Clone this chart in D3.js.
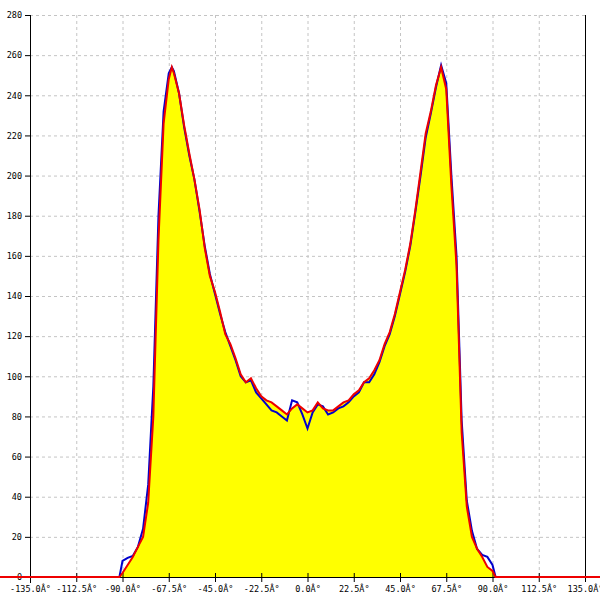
<!DOCTYPE html>
<html>
<head>
<meta charset="utf-8">
<script src="https://cdn.jsdelivr.net/npm/d3@7"></script>
<style>
html,body{margin:0;padding:0;background:#fff;}
svg{display:block;}
text{font-family:"DejaVu Sans Mono",monospace;font-size:8.5px;fill:#000;}
</style>
</head>
<body>
<svg id="chart" width="600" height="600"></svg>
<script>
const angles = [-180, -91.5, -90, -87.5, -85, -82.5, -80, -77.5, -75, -72.5, -70, -67.5, -66, -65, -62.5, -60, -57.5, -55, -52.5, -50, -47.5, -45, -42.5, -40, -37.5, -35, -32.5, -30, -27.5, -25, -22.5, -20, -17.5, -15, -12.5, -10, -7.5, -5, -2.5, 0, 2.5, 5, 7.5, 10, 12.5, 15, 17.5, 20, 22.5, 25, 27.5, 30, 32.5, 35, 37.5, 40, 42.5, 45, 47.5, 50, 52.5, 55, 57.5, 60, 62.5, 65, 67.5, 70, 72.5, 75, 77.5, 80, 82.5, 85, 87.5, 90, 91.5, 180];
const redValues = [0, 0, 2, 6, 10, 15, 20, 37, 80, 168, 226, 248, 254, 251, 241, 225, 211, 198, 183, 164, 150, 142, 132, 121, 116, 109, 101, 97, 99, 94, 90, 88, 87, 85, 83, 81, 84, 86, 84, 82, 83, 87, 84, 83, 83, 85, 87, 88, 91, 93, 97, 99, 103, 108, 116, 122, 131, 142, 153, 166, 183, 202, 221, 232, 245, 254, 243, 195, 155, 72, 35, 20, 14, 10, 5, 3, 0, 0];
const blueValues = [0, 0, 8, 9.5, 10.5, 15, 24, 46, 95, 180, 232, 251, 254, 252, 241, 224, 210, 198, 182, 165, 151, 141, 131, 122, 115, 108, 100, 97, 98, 92, 89, 86, 83, 82, 80, 78, 88, 87, 81, 74, 82, 86, 85, 81, 82, 84, 85, 87, 90, 92, 97, 97, 101, 107, 115, 121, 130, 141, 152, 165, 182, 200, 219, 231, 244, 255, 246, 200, 160, 78, 38, 23, 14, 11, 10, 6, 0, 0];
const xTicks = [-135, -112.5, -90, -67.5, -45, -22.5, 0, 22.5, 45, 67.5, 90, 112.5, 135];
const yTicks = [0, 20, 40, 60, 80, 100, 120, 140, 160, 180, 200, 220, 240, 260, 280];

const svg = d3.select("#chart");
const x = d3.scaleLinear().domain([-135, 135]).range([30, 585]);
const y = d3.scaleLinear().domain([0, 280]).range([577, 15]);

const red = angles.map((a, i) => ({a, v: redValues[i]}));
const blue = angles.map((a, i) => ({a, v: blueValues[i]}));

// grid
const grid = svg.append("g");
grid.selectAll("line.v").data(xTicks.filter(d => d > -135 && d < 135)).enter().append("line")
  .attr("x1", d => x(d) + 0.5).attr("x2", d => x(d) + 0.5)
  .attr("y1", y(280)).attr("y2", y(0))
  .attr("stroke", "#c4c4c4").attr("stroke-dasharray", "3,3");
grid.selectAll("line.h").data(yTicks.filter(d => d > 0)).enter().append("line")
  .attr("x1", x(-135)).attr("x2", x(135))
  .attr("y1", d => y(d) + 0.5).attr("y2", d => y(d) + 0.5)
  .attr("stroke", "#c4c4c4").attr("stroke-dasharray", "3,3");

// yellow area under red
svg.append("path").datum(red)
  .attr("fill", "#ffff00")
  .attr("d", d3.area().x(d => x(d.a)).y0(y(0)).y1(d => y(d.v)));

// axes
const xAxis = d3.axisBottom(x).tickValues(xTicks).tickSize(5).tickSizeOuter(0)
  .tickFormat(d => d.toFixed(1) + "Â°");
const gx = svg.append("g").attr("transform", `translate(0,${y(0)})`).call(xAxis);
gx.select(".domain").remove();
gx.selectAll(".tick line").attr("y1", -4).attr("y2", 5).attr("stroke", "#000");
gx.selectAll(".tick text").attr("y", 9).attr("dy", "0.71em").style("font-size", "8.5px");
svg.append("line").attr("x1", 0).attr("x2", 600).attr("y1", y(0) + 0.5).attr("y2", y(0) + 0.5).attr("stroke", "#000");

const yAxis = d3.axisLeft(y).tickValues(yTicks).tickSize(5).tickSizeOuter(0).tickFormat(d3.format("d"));
const gy = svg.append("g").attr("transform", `translate(${x(-135)},0)`).call(yAxis);
gy.select(".domain").remove();
gy.selectAll(".tick line").attr("stroke", "#000");
gy.selectAll(".tick text").attr("x", -8).style("font-size", "8.5px");
svg.append("line").attr("x1", x(-135) + 0.5).attr("x2", x(-135) + 0.5).attr("y1", y(280)).attr("y2", y(0) + 6).attr("stroke", "#000");
svg.append("line").attr("x1", x(135) + 0.5).attr("x2", x(135) + 0.5).attr("y1", y(280)).attr("y2", y(0)).attr("stroke", "#000");

// lines
const line = d3.line().x(d => x(d.a)).y(d => y(d.v));
svg.append("path").datum(blue).attr("fill", "none").attr("stroke", "#0000cc").attr("stroke-width", 2).attr("d", line);
svg.append("path").datum(red).attr("fill", "none").attr("stroke", "#ee0000").attr("stroke-width", 2).attr("d", line);
</script>
</body>
</html>
